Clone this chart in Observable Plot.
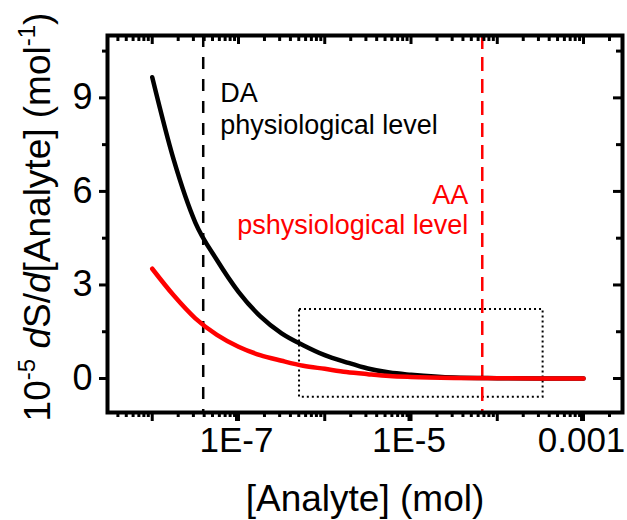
<!DOCTYPE html>
<html><head><meta charset="utf-8">
<script src="https://cdn.jsdelivr.net/npm/d3@7"></script>
<script src="https://cdn.jsdelivr.net/npm/@observablehq/plot@0.6"></script>
<style>body{margin:0;background:#fff} svg{display:block}</style>
</head><body><div id="chart"></div>
<script>
// [Analyte] concentrations (mol) where the curves were read
const concentration = [1e-8, 1.78e-8, 3.16e-8, 5.62e-8, 1e-7, 1.78e-7, 3.16e-7, 5.62e-7, 1e-6, 1.78e-6, 3.16e-6, 5.62e-6, 1e-5, 3.16e-5, 1e-4, 3.16e-4, 1e-3];
// 10^-5 dS/d[Analyte] (mol^-1)
const daSensitivity = [9.66, 7.0, 5.0, 3.8, 2.78, 2.0, 1.45, 1.07, 0.75, 0.52, 0.32, 0.19, 0.12, 0.03, 0.01, 0.0, 0.0];
const aaSensitivity = [3.52, 2.66, 1.93, 1.4, 1.02, 0.75, 0.57, 0.41, 0.31, 0.21, 0.14, 0.08, 0.05, 0.02, 0.01, 0.0, 0.0];
// physiological levels (mol)
const daLevel = [3.9e-8];
const aaLevel = [6.7e-5];
// dotted zoom box
const boxX = [5.1e-7, 3.4e-4];
const boxY = [-0.6, 2.21];
// axes
const xDomain = [3.03e-9, 2.83e-3];
const yDomain = [-1.09, 11.0];
const xTickValues = [1e-7, 1e-5, 1e-3];
const xTickLabels = ["1E-7", "1E-5", "0.001"];
const xDecades = [1e-8, 1e-7, 1e-6, 1e-5, 1e-4, 1e-3];
const yMajor = [0, 3, 6, 9];
const yMinor = [1.5, 4.5, 7.5, 10.5];

const daData = concentration.map((c, i) => ({c, v: daSensitivity[i]}));
const aaData = concentration.map((c, i) => ({c, v: aaSensitivity[i]}));
const box = [{x1: boxX[0], x2: boxX[1], y1: boxY[0], y2: boxY[1]}];
const xMinor = d3.scaleLog().domain(xDomain).ticks().filter(t => !xDecades.some(d => Math.abs(d - t) / d < 1e-6));
const labelOf = new Map(xTickValues.map((v, i) => [v, xTickLabels[i]]));

const W = 627, H = 520, ML = 107, MR = 5, MT = 35, MB = 108;
// helper scales (same as Plot's) to express inward tick lengths in pixels
const sx = d3.scaleLog().domain(xDomain).range([ML, W - MR]);
const sy = d3.scaleLinear().domain(yDomain).range([H - MB, MT]);
const topTick = (len) => sy.invert(MT + len);
const rightTick = (len) => sx.invert(W - MR - len);
const TS = 3;
const chart = Plot.plot({
  width: W, height: H,
  marginLeft: ML, marginRight: MR, marginTop: MT, marginBottom: MB,
  style: {fontFamily: "'Liberation Sans', Arial, sans-serif", background: "white", color: "black"},
  x: {type: "log", domain: xDomain},
  y: {domain: yDomain},
  marks: [
    Plot.rect(box, {x1: "x1", x2: "x2", y1: "y1", y2: "y2", fill: "none", stroke: "black", strokeWidth: 2, strokeDasharray: "2,3"}),
    Plot.ruleX(daLevel, {x: d => d, stroke: "black", strokeWidth: 2.5, strokeDasharray: "12,10"}),
    Plot.ruleX(aaLevel, {x: d => d, stroke: "#ff0000", strokeWidth: 2.5, strokeDasharray: "14,8"}),
    Plot.line(daData, {x: "c", y: "v", stroke: "black", strokeWidth: 4.5, curve: "monotone-x"}),
    Plot.line(aaData, {x: "c", y: "v", stroke: "#ff0000", strokeWidth: 4.5, curve: "monotone-x"}),
    Plot.text(daLevel, {x: d => d, y: 7.85, text: () => "DA\nphysiological level", textAnchor: "start", dx: 17, lineAnchor: "bottom", lineHeight: 1.185, fontSize: 27, fill: "black"}),
    Plot.text(aaLevel, {x: d => d, y: 4.64, text: () => "AA\npshysiological level", textAnchor: "end", dx: -14, lineAnchor: "bottom", lineHeight: 1.11, fontSize: 27, fill: "#ff0000"}),
    Plot.text(["[Analyte] (mol)"], {frameAnchor: "bottom", dy: 98, lineAnchor: "bottom", fontSize: 37, fill: "black"}),
    // bottom axis
    Plot.axisX({anchor: "bottom", ticks: xDecades, tickSize: 9, text: null, label: null, strokeWidth: TS}),
    Plot.axisX({anchor: "bottom", ticks: xMinor, tickSize: 5, text: null, label: null, strokeWidth: TS}),
    Plot.axisX({anchor: "bottom", ticks: xTickValues, tickSize: 9, tickPadding: 6, dx: -2, tickFormat: d => labelOf.get(d), fontSize: 35, label: null, strokeWidth: TS}),
    // top axis (inward ticks)
    Plot.ruleX(xDecades, {x: d => d, y1: yDomain[1], y2: topTick(9), stroke: "black", strokeWidth: TS}),
    Plot.ruleX(xMinor, {x: d => d, y1: yDomain[1], y2: topTick(6), stroke: "black", strokeWidth: TS}),
    // left axis
    Plot.axisY({anchor: "left", ticks: yMajor, tickSize: 8, tickPadding: 7, tickFormat: d => String(d), fontSize: 36, label: null, strokeWidth: TS}),
    Plot.axisY({anchor: "left", ticks: yMinor, tickSize: 5, text: null, label: null, strokeWidth: TS}),
    // right axis (inward ticks)
    Plot.ruleY(yMajor, {y: d => d, x1: xDomain[1], x2: rightTick(9), stroke: "black", strokeWidth: TS}),
    Plot.ruleY(yMinor, {y: d => d, x1: xDomain[1], x2: rightTick(6), stroke: "black", strokeWidth: TS}),
    Plot.frame({stroke: "black", strokeWidth: 4})
  ]
});
document.getElementById("chart").appendChild(chart);

// rotated y-axis title with italic d and superscripts
const svg = d3.select(chart);
const t = svg.append("text")
  .attr("transform", "translate(50,217) rotate(-90)")
  .attr("text-anchor", "middle")
  .attr("font-size", 37)
  .attr("fill", "black")
  .attr("font-family", "'Liberation Sans', Arial, sans-serif");
t.append("tspan").text("10");
t.append("tspan").attr("font-size", 24).attr("dy", -15).text("-5");
t.append("tspan").attr("dy", 15).text(" ");
t.append("tspan").attr("font-style", "italic").text("d");
t.append("tspan").text("S/");
t.append("tspan").attr("font-style", "italic").text("d");
t.append("tspan").text("[Analyte] (mol");
t.append("tspan").attr("font-size", 24).attr("dy", -15).text("-1");
t.append("tspan").attr("dy", 15).text(")");
</script>
</body></html>
